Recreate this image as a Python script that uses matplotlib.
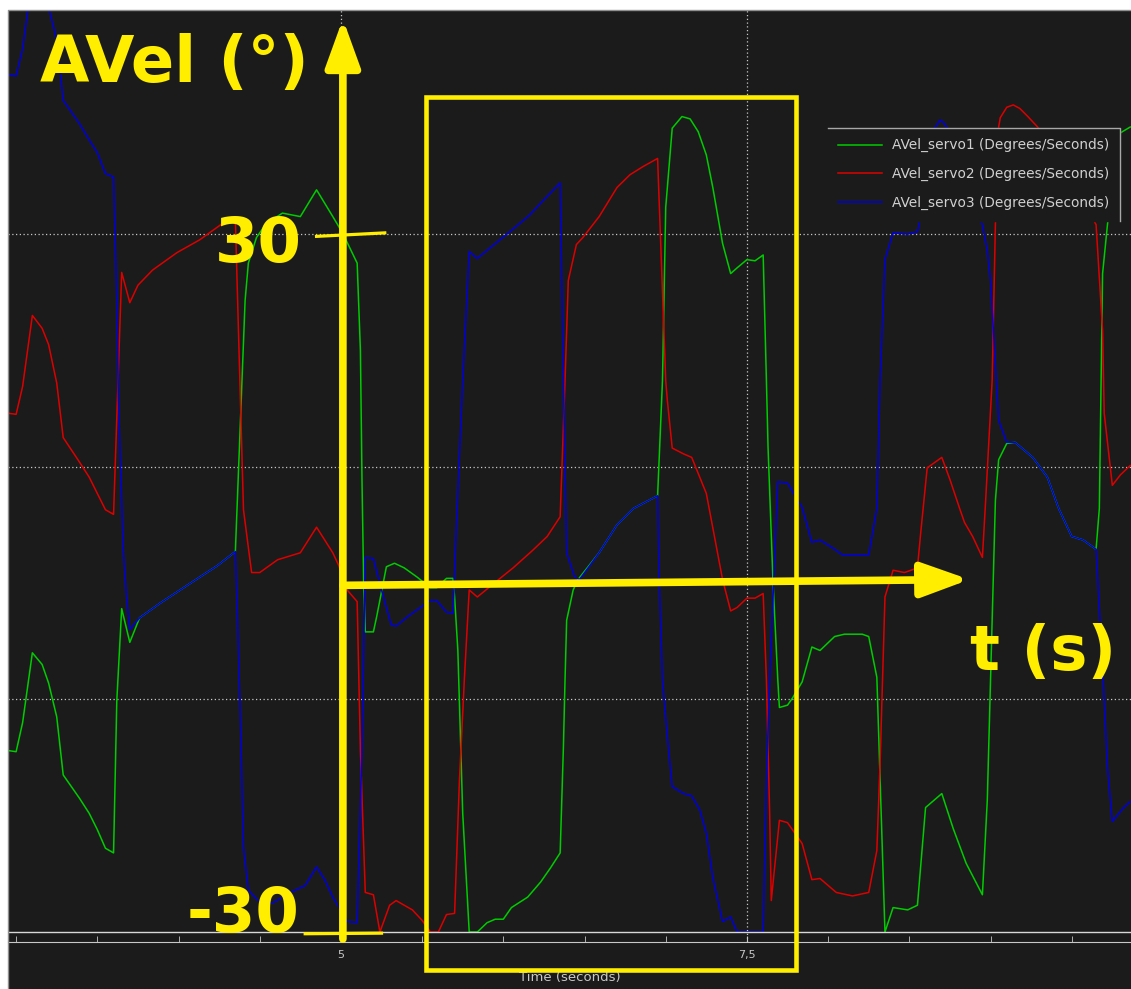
import numpy as np
import matplotlib
matplotlib.use('Agg')
import matplotlib.pyplot as plt
from matplotlib.patches import Rectangle
from matplotlib.lines import Line2D

t_servo1 = [2.95, 3.00, 3.04, 3.10, 3.16, 3.20, 3.25, 3.29, 3.39, 3.45,
            3.50, 3.55, 3.60, 3.62, 3.65, 3.70, 3.76, 3.89, 4.01, 4.13,
            4.24, 4.35, 4.41, 4.43, 4.48, 4.54, 4.64, 4.75, 4.85, 4.95,
            5.01, 5.10, 5.12, 5.13, 5.14, 5.15, 5.20, 5.22, 5.28, 5.33,
            5.39, 5.47, 5.55, 5.59, 5.65, 5.69, 5.70, 5.72, 5.75, 5.79,
            5.84, 5.90, 5.95, 6.00, 6.05, 6.15, 6.23, 6.29, 6.35, 6.37,
            6.38, 6.39, 6.43, 6.46, 6.59, 6.70, 6.80, 6.95, 6.98, 7.00,
            7.04, 7.10, 7.15, 7.20, 7.25, 7.29, 7.35, 7.40, 7.44, 7.50,
            7.55, 7.60, 7.62, 7.63, 7.66, 7.69, 7.70, 7.75, 7.78, 7.84,
            7.90, 7.95, 8.04, 8.10, 8.21, 8.25, 8.30, 8.35, 8.40, 8.49,
            8.55, 8.60, 8.70, 8.77, 8.85, 8.95, 8.98, 9.03, 9.05, 9.10,
            9.15, 9.26, 9.35, 9.42, 9.50, 9.57, 9.65, 9.67, 9.69, 9.72,
            9.76, 9.80, 9.86]
avel_servo1 = [-14.4, -14.5, -12.0, -6.0, -7.0, -8.6, -11.5, -16.5, -18.5, -19.8,
               -21.2, -22.8, -23.2, -10.1, -2.2, -5.1, -3.0, -1.7, -0.6, 0.5,
               1.5, 2.7, 24.3, 27.5, 29.7, 30.9, 31.8, 31.5, 33.8, 31.5,
               30.1, 27.5, 20.0, 8.6, 0.0, -4.2, -4.2, -2.9, 1.4, 1.7,
               1.3, 0.5, -0.4, -0.4, 0.4, 0.4, -1.2, -5.8, -19.8, -30.0,
               -30.0, -29.2, -28.9, -28.9, -27.9, -27.0, -25.7, -24.5, -23.2, -14.1,
               -8.3, -3.2, -0.6, 0.3, 2.6, 5.0, 6.4, 7.5, 17.4, 32.3,
               39.1, 40.1, 39.9, 38.8, 36.8, 34.0, 29.2, 26.6, 27.1, 27.8,
               27.7, 28.2, 17.4, 11.7, 0.3, -8.3, -10.7, -10.5, -9.9, -8.5,
               -5.5, -5.8, -4.6, -4.4, -4.4, -4.6, -8.1, -30.0, -27.9, -28.1,
               -27.7, -19.3, -18.1, -21.1, -24.1, -26.8, -18.7, 7.1, 10.6, 12.0,
               12.1, 10.8, 9.1, 6.4, 4.0, 3.7, 2.9, 6.4, 26.6, 30.8,
               35.9, 38.7, 39.2]

t_servo2 = [2.95, 3.00, 3.04, 3.10, 3.16, 3.20, 3.25, 3.29, 3.39, 3.45,
            3.50, 3.55, 3.60, 3.65, 3.70, 3.75, 3.84, 3.99, 4.13, 4.27,
            4.35, 4.40, 4.45, 4.50, 4.61, 4.75, 4.85, 4.95, 4.99, 5.02,
            5.10, 5.12, 5.15, 5.20, 5.24, 5.30, 5.34, 5.44, 5.50, 5.55,
            5.60, 5.65, 5.70, 5.73, 5.76, 5.79, 5.84, 5.98, 6.06, 6.18,
            6.27, 6.35, 6.38, 6.40, 6.45, 6.49, 6.59, 6.70, 6.78, 6.86,
            6.95, 7.00, 7.01, 7.04, 7.11, 7.16, 7.25, 7.35, 7.40, 7.44,
            7.50, 7.55, 7.60, 7.62, 7.64, 7.65, 7.70, 7.75, 7.84, 7.90,
            7.95, 8.05, 8.15, 8.25, 8.30, 8.32, 8.35, 8.40, 8.47, 8.55,
            8.57, 8.61, 8.70, 8.75, 8.81, 8.84, 8.89, 8.95, 8.97, 9.01,
            9.03, 9.05, 9.06, 9.10, 9.14, 9.18, 9.23, 9.29, 9.43, 9.55,
            9.65, 9.69, 9.70, 9.75, 9.80, 9.86]
avel_servo2 = [14.6, 14.5, 16.9, 23.0, 21.9, 20.5, 17.2, 12.5, 10.4, 9.1,
               7.7, 6.3, 5.9, 26.7, 24.1, 25.6, 26.9, 28.4, 29.5, 30.9,
               31.2, 6.3, 0.9, 0.9, 2.0, 2.6, 4.8, 2.6, 1.4, -0.3,
               -1.6, -14.4, -26.6, -26.8, -30.0, -27.7, -27.3, -28.1, -29.0, -30.0,
               -30.0, -28.5, -28.4, -16.9, -8.3, -0.6, -1.2, 0.4, 1.3, 2.8,
               4.0, 5.7, 17.4, 26.0, 29.1, 29.7, 31.5, 34.0, 35.1, 35.8,
               36.5, 17.4, 15.7, 11.6, 11.1, 10.8, 7.7, 0.3, -2.4, -2.1,
               -1.3, -1.3, -0.9, -8.3, -19.8, -27.3, -20.4, -20.6, -22.4, -25.5,
               -25.4, -26.6, -26.9, -26.6, -23.0, -15.5, -1.2, 1.1, 0.9, 1.3,
               4.3, 9.9, 10.8, 8.9, 6.4, 5.2, 4.0, 2.2, 7.1, 17.4,
               30.8, 39.2, 40.0, 40.9, 41.1, 40.8, 40.1, 39.2, 36.4, 33.4,
               30.8, 21.7, 14.6, 8.4, 9.3, 10.1]

t_servo3 = [2.95, 3.00, 3.04, 3.10, 3.16, 3.20, 3.25, 3.29, 3.39, 3.45,
            3.50, 3.55, 3.60, 3.62, 3.63, 3.66, 3.68, 3.70, 3.76, 3.89,
            4.01, 4.13, 4.24, 4.35, 4.36, 4.38, 4.40, 4.43, 4.49, 4.58,
            4.69, 4.78, 4.85, 4.90, 4.95, 5.04, 5.10, 5.13, 5.15, 5.20,
            5.25, 5.31, 5.34, 5.41, 5.50, 5.55, 5.59, 5.65, 5.69, 5.71,
            5.75, 5.79, 5.84, 5.90, 6.04, 6.16, 6.24, 6.35, 6.37, 6.39,
            6.44, 6.47, 6.59, 6.70, 6.80, 6.95, 6.96, 6.98, 7.01, 7.04,
            7.11, 7.16, 7.21, 7.25, 7.29, 7.35, 7.40, 7.44, 7.60, 7.62,
            7.64, 7.69, 7.75, 7.84, 7.90, 7.95, 8.03, 8.09, 8.25, 8.30,
            8.32, 8.35, 8.40, 8.49, 8.55, 8.56, 8.60, 8.66, 8.69, 8.71,
            8.73, 8.81, 8.89, 8.95, 8.98, 9.00, 9.05, 9.10, 9.15, 9.26,
            9.35, 9.42, 9.50, 9.57, 9.65, 9.69, 9.72, 9.75, 9.82, 9.86]
avel_servo3 = [43.7, 43.6, 45.9, 52.1, 51.0, 49.5, 46.7, 41.5, 39.5, 38.1,
               37.0, 35.2, 34.9, 24.3, 15.7, 2.8, -1.2, -4.0, -3.0, -1.7,
               -0.6, 0.5, 1.5, 2.7, -1.5, -11.2, -22.7, -26.4, -27.3, -27.5,
               -26.6, -26.0, -24.4, -25.5, -27.0, -29.1, -29.2, -14.1, 2.2, 2.1,
               -0.6, -3.6, -3.7, -2.9, -2.0, -1.5, -1.5, -2.5, -2.6, 4.6,
               17.4, 28.5, 27.9, 28.6, 30.2, 31.6, 32.8, 34.4, 17.4, 2.6,
               0.5, 0.3, 2.6, 5.0, 6.4, 7.5, 0.3, -8.3, -13.2, -17.5,
               -18.1, -18.3, -19.5, -21.5, -25.3, -29.1, -28.7, -30.0, -30.0, -16.9,
               -8.3, 8.7, 8.6, 6.5, 3.5, 3.7, 3.0, 2.4, 2.4, 6.4,
               17.4, 27.8, 30.1, 30.0, 30.2, 30.8, 35.1, 39.2, 39.8, 39.6,
               39.2, 35.9, 32.9, 30.8, 28.6, 26.0, 14.0, 12.1, 12.1, 10.8,
               9.1, 6.4, 4.0, 3.7, 2.9, -7.2, -15.8, -20.5, -19.3, -18.8]

labels = ['AVel_servo1 (Degrees/Seconds)',
          'AVel_servo2 (Degrees/Seconds)',
          'AVel_servo3 (Degrees/Seconds)']
colors = ['#00cc00', '#dd0000', '#0000dd']

x_ticks = [5, 7.5]
x_ticklabels = ['5', '7,5']

BG = '#1b1b1b'
GRID = '#c8c8c8'
YEL = '#ffee00'
W, H = 1131, 989

fig = plt.figure(figsize=(W / 100, H / 100), dpi=100, facecolor='white')
# fond sombre (bandes blanches en haut et à gauche comme sur la capture)
fig.add_artist(Rectangle((8 / W, 0), 1, 1 - 10 / H, transform=fig.transFigure,
                         facecolor=BG, edgecolor='none', zorder=-5))
fig.add_artist(Line2D([8 / W, 8 / W, 1], [0, 1 - 10 / H, 1 - 10 / H],
                      transform=fig.transFigure, color='#909090', lw=1))

ax = fig.add_axes([8 / W, 1 - 942 / H, 1 - 8 / W, (942 - 10) / H])
ax.set_facecolor(BG)

for t, v, c, lab in zip([t_servo1, t_servo2, t_servo3],
                        [avel_servo1, avel_servo2, avel_servo3], colors, labels):
    ax.plot(t, v, color=c, lw=1.1, label=lab)

ax.set_xlim(2.95, 9.865)
ax.set_ylim(-30.86, 49.26)

ax.set_xticks(x_ticks)
ax.set_xticklabels(x_ticklabels)
ax.set_xticks(np.arange(3, 10, 0.5), minor=True)
ax.tick_params(axis='x', which='both', direction='in', length=4, color=GRID,
               labelcolor='#c8c8c8', labelsize=8, pad=6)
ax.set_yticks([-10, 10, 30])
ax.tick_params(axis='y', left=False, labelleft=False)
ax.grid(True, which='major', color=GRID, linestyle=(0, (1, 2)), lw=0.9)
ax.axhline(-30, color='#d8d8d8', lw=1)
for s in ['top', 'left', 'right']:
    ax.spines[s].set_visible(False)
ax.spines['bottom'].set_color(GRID)
ax.set_xlabel('Time (seconds)', color='#c8c8c8', fontsize=9.5, labelpad=8)

# ---- annotations jaunes
arrow_style = '-|>,head_length=2.9,head_width=1.05'
ax.annotate('', xy=(5.012, 48.5), xytext=(5.012, -30.6), annotation_clip=False,
            arrowprops=dict(arrowstyle=arrow_style, mutation_scale=10, lw=5.5,
                            color=YEL, shrinkA=0, shrinkB=0), zorder=6)
ax.annotate('', xy=(8.87, 0.3), xytext=(5.012, -0.2), annotation_clip=False,
            arrowprops=dict(arrowstyle=arrow_style, mutation_scale=10, lw=5.5,
                            color=YEL, shrinkA=0, shrinkB=0), zorder=6)
ax.add_patch(Rectangle((5.523, -33.27), 2.279, 75.05, fill=False, edgecolor=YEL,
                       lw=3.3, clip_on=False, zorder=6))
ax.plot([4.85, 5.27], [29.8, 30.1], color=YEL, lw=2.3, clip_on=False, zorder=6)
ax.plot([4.78, 5.25], [-30.15, -30.1], color=YEL, lw=2.3, clip_on=False, zorder=6)

txt_kw = dict(color=YEL, fontweight='bold', va='baseline', zorder=7, clip_on=False)
ax.text(3.147, 43.07, 'AVel (°)', fontsize=46, ha='left', **txt_kw)
ax.text(4.76, 27.59, '30', fontsize=45, ha='right', **txt_kw)
ax.text(4.748, -30.0, '-30', fontsize=45, ha='right', **txt_kw)
ax.text(8.873, -7.48, 't (s)', fontsize=45, ha='left', **txt_kw)

# ---- légende
leg = ax.legend(loc='upper left', bbox_to_anchor=(828 / W, 1 - 128 / H),
                bbox_transform=fig.transFigure, borderaxespad=0, fontsize=9.9,
                frameon=True, fancybox=False, facecolor=BG, edgecolor=BG,
                framealpha=1, handlelength=3.2, handletextpad=0.72,
                labelspacing=1.08, borderpad=0.75)
for txt in leg.get_texts():
    txt.set_color('#d0d0d0')
leg.set_zorder(10)

fig.canvas.draw()
bb = leg.get_window_extent().transformed(fig.transFigure.inverted())
fig.add_artist(Line2D([bb.x0, bb.x1, bb.x1], [bb.y1, bb.y1, bb.y0],
                      transform=fig.transFigure, color='#a8a8a8', lw=1, zorder=11))

fig.savefig('out.png', dpi=100, facecolor=fig.get_facecolor())
